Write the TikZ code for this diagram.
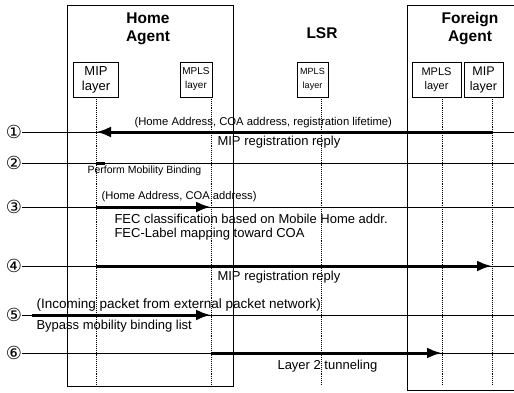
\documentclass[tikz,border=0pt]{standalone}
\usepackage{fontspec}
\setmainfont{Liberation Sans}
\newfontfamily\circfont{DejaVu Sans}
\usetikzlibrary{arrows.meta,positioning}

\begin{document}
\begin{tikzpicture}[x=1pt,y=-1pt,font=\fontsize{13}{14}\selectfont]
  \tikzstyle{agent}=[draw,line width=1pt]
  \tikzstyle{title}=[font=\bfseries\fontsize{15.5}{18}\selectfont,align=center]
  \tikzstyle{layer}=[draw,line width=0.7pt,align=center,inner sep=0pt,minimum height=35pt]
  \tikzstyle{life}=[densely dotted,line width=0.9pt]
  \tikzstyle{msg}=[line width=0.8pt]
  \tikzstyle{push}=[line width=3pt,-{Latex[length=15pt,width=11pt]}]
  \tikzstyle{num}=[font=\circfont\fontsize{18}{18}\selectfont,inner sep=0pt]

  \useasboundingbox (0,0) rectangle (514,392);

  % agents
  \draw[agent] (67,5) rectangle (233,386);
  \draw[agent] (514,5) -- (407,5) -- (407,390) -- (514,390);
  \node[title] (ha) at (148,29) {Home\\Agent};
  \node[title] (lsr) at (322,33) {LSR};
  \node[title] (fa) at (470,29) {Foreign\\Agent};

  % layers
  \node[layer,minimum width=45pt,font=\fontsize{13}{15}\selectfont]  (haMIPbox)   at (96,79.5)    {MIP\\layer};
  \node[layer,minimum width=32pt,font=\fontsize{10}{14}\selectfont]  (haMPLSbox)  at (196,79.5)   {MPLS\\layer};
  \node[layer,minimum width=31pt,font=\fontsize{9}{14}\selectfont]   (lsrMPLSbox) at (312.5,79.5) {MPLS\\layer};
  \node[layer,minimum width=49pt,font=\fontsize{11}{14}\selectfont]  (faMPLSbox)  at (436.5,79.5) {MPLS\\layer};
  \node[layer,minimum width=39pt,font=\fontsize{12.5}{15}\selectfont] (faMIPbox)  at (483.5,79.5) {MIP\\layer};

  % lifelines
  \coordinate (haMIP)   at (96,97);
  \coordinate (haMPLS)  at (211,97);
  \coordinate (lsrMPLS) at (321,97);
  \coordinate (faMPLS)  at (442,97);
  \coordinate (faMIP)   at (492,97);
  \coordinate (floor)   at (0,384);
  \coordinate (rim)     at (514,0);
  \foreach \l in {haMIP,haMPLS,lsrMPLS,faMPLS,faMIP}
    \draw[life] (\l) -- (\l |- floor);

  % steps
  \node[num] (c1) at (14,132) {①};
  \node[num] (c2) at (14,163) {②};
  \node[num] (c3) at (14,207) {③};
  \node[num] (c4) at (14,266) {④};
  \node[num] (c5) at (14,315) {⑤};
  \node[num] (c6) at (14,353) {⑥};
  \coordinate (src5) at (32,315);

  \foreach \c in {c1,c2,c3,c4,c5,c6}
    \draw[msg] (\c) -- (rim |- \c);

  \draw[push] (faMIP |- c1) -- (haMIP |- c1);
  \draw[line width=3pt] (haMIP |- c2) -- ++(9,0);
  \draw[push] (haMIP |- c3) -- (haMPLS |- c3);
  \draw[push] (haMIP |- c4) -- (faMIP |- c4);
  \draw[push] (src5) -- (haMPLS |- c5);
  \draw[push] (haMPLS |- c6) -- (faMPLS |- c6);

  % labels
  \node[anchor=west,font=\fontsize{11.3}{13}\selectfont] (l1a) at (131,123) {(Home Address, COA address, registration lifetime)};
  \node[anchor=west] (l1b) at (214,142) {MIP registration reply};
  \node[anchor=west,font=\fontsize{10.5}{12}\selectfont] (l2)  at (84,171)  {Perform Mobility Binding};
  \node[anchor=west,font=\fontsize{11.2}{13}\selectfont] (l3a) at (98,197)  {(Home Address, COA address)};
  \node[anchor=west,align=left] (l3b) at (111,227) {FEC classification based on Mobile Home addr.\\FEC-Label mapping toward COA};
  \node[anchor=west] (l4)  at (214,277) {MIP registration reply};
  \node[anchor=west,font=\fontsize{13.5}{15}\selectfont] (l5a) at (33,305)  {(Incoming packet from external packet network)};
  \node[anchor=west] (l5b) at (33,326)  {Bypass mobility binding list};
  \node[anchor=west] (l6)  at (274,366) {Layer 2 tunneling};
\end{tikzpicture}
\end{document}
